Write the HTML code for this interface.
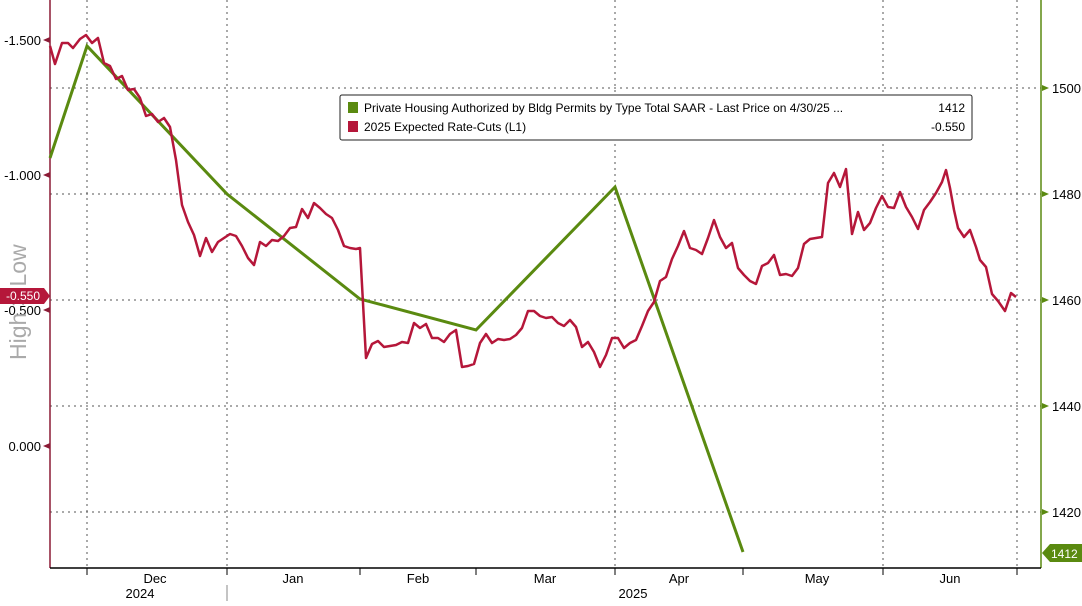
<!DOCTYPE html>
<html><head><style>
body{margin:0;background:#fff;width:1082px;height:601px;overflow:hidden;font-family:"Liberation Sans",sans-serif;}
</style></head><body>
<svg width="1082" height="601" xmlns="http://www.w3.org/2000/svg" font-family="Liberation Sans, sans-serif">
<g stroke="#555" stroke-dasharray="2,4" stroke-width="1">
<line x1="50" x2="1041" y1="88" y2="88"/><line x1="50" x2="1041" y1="194" y2="194"/>
<line x1="50" x2="1041" y1="300" y2="300"/><line x1="50" x2="1041" y1="406" y2="406"/>
<line x1="50" x2="1041" y1="512" y2="512"/>
<line x1="87" x2="87" y1="0" y2="568"/><line x1="227" x2="227" y1="0" y2="568"/>
<line x1="615" x2="615" y1="0" y2="568"/><line x1="883" x2="883" y1="0" y2="568"/>
<line x1="1017" x2="1017" y1="0" y2="568"/>
</g>
<line x1="50" y1="0" x2="50" y2="568" stroke="#8b1a35" stroke-width="1.5"/>
<line x1="1041" y1="0" x2="1041" y2="568" stroke="#5a8a10" stroke-width="1.5"/>
<line x1="50" y1="568" x2="1041" y2="568" stroke="#000" stroke-width="1.5"/>
<g stroke="#000" stroke-width="1">
<line x1="87" x2="87" y1="568" y2="575"/><line x1="227" x2="227" y1="568" y2="575"/>
<line x1="360" x2="360" y1="568" y2="575"/><line x1="476" x2="476" y1="568" y2="575"/>
<line x1="615" x2="615" y1="568" y2="575"/><line x1="743" x2="743" y1="568" y2="575"/>
<line x1="883" x2="883" y1="568" y2="575"/><line x1="1017" x2="1017" y1="568" y2="575"/>
<line x1="227" x2="227" y1="585" y2="601" stroke="#888"/>
</g>
<g font-size="13" fill="#000" text-anchor="middle">
<text x="155" y="583">Dec</text><text x="293" y="583">Jan</text><text x="418" y="583">Feb</text>
<text x="545" y="583">Mar</text><text x="679" y="583">Apr</text><text x="817" y="583">May</text>
<text x="950" y="583">Jun</text><text x="140" y="598">2024</text><text x="633" y="598">2025</text>
</g>
<g font-size="13" fill="#000" text-anchor="end">
<text x="41" y="45">-1.500</text><text x="41" y="180">-1.000</text><text x="41" y="315">-0.500</text><text x="41" y="451">0.000</text>
</g>
<g fill="#8b1a35">
<polygon points="43,40 50,37 50,43"/><polygon points="43,175 50,172 50,178"/><polygon points="43,310 50,307 50,313"/><polygon points="43,446 50,443 50,449"/>
</g>
<g font-size="13" fill="#000">
<text x="1052" y="93">1500</text><text x="1052" y="199">1480</text><text x="1052" y="305">1460</text><text x="1052" y="411">1440</text><text x="1052" y="517">1420</text>
</g>
<g fill="#5a8a10">
<polygon points="1049,88 1042,85 1042,91"/><polygon points="1049,194 1042,191 1042,197"/><polygon points="1049,300 1042,297 1042,303"/><polygon points="1049,406 1042,403 1042,409"/><polygon points="1049,512 1042,509 1042,515"/>
</g>
<text transform="translate(26,360) rotate(-90)" font-size="23" fill="#aaa">High &gt; Low</text>
<polyline fill="none" stroke="#5a8a10" stroke-width="3" points="50,158 87,46 227,194 360,299 476,330 615,187 743,552"/>
<polyline fill="none" stroke="#b5173a" stroke-width="2.5" stroke-linejoin="round" points="50,46 55,64 62,43 68,43 73,48 80,39 86,35 92,43 98,38 104,63 110,66 116,79 122,76 128,90 134,89 140,98 146,116 152,114 158,122 164,118 170,127 176,160 182,205 188,222 194,235 200,256 206,238 212,252 218,242 224,238 230,234 236,236 242,246 248,258 254,265 260,242 266,246 272,240 278,241 284,236 290,228 296,227 302,209 308,218 314,203 320,208 326,214 332,218 338,230 344,246 350,248 356,249 360,248 366,358 372,344 378,341 384,347 390,346 396,345 402,342 408,343 414,323 420,328 426,324 432,338 438,338 444,342 450,334 456,330 462,367 468,366 474,364 480,343 486,334 492,343 498,339 504,340 510,339 516,335 522,328 528,311 534,311 540,316 546,318 552,317 558,323 564,326 570,320 576,327 582,347 588,342 594,352 600,367 606,355 612,338 618,338 624,348 630,343 636,340 642,326 648,311 654,302 660,281 666,277 672,259 678,246 684,231 690,248 696,250 702,254 708,238 714,220 720,237 726,248 732,243 738,268 744,275 750,281 756,284 762,266 768,263 774,255 780,275 786,274 792,276 798,268 804,244 810,239 816,238 822,237 828,183 834,173 840,187 846,169 852,234 858,212 864,230 870,223 876,208 882,196 888,207 894,208 900,192 906,207 912,217 918,229 924,210 930,202 936,193 942,182 946,170 950,188 954,210 958,228 964,237 970,230 976,247 980,260 986,267 992,294 998,301 1005,311 1011,293 1016,297"/>
<rect x="340" y="95" width="632" height="45" fill="#fff" stroke="#222" rx="2"/>
<rect x="348" y="102" width="10" height="11" fill="#5a8a10"/>
<rect x="348" y="121" width="10" height="11" fill="#b5173a"/>
<g font-size="12" fill="#000">
<text x="364" y="112">Private Housing Authorized by Bldg Permits by Type Total SAAR - Last Price on 4/30/25 ...</text>
<text x="364" y="131">2025 Expected Rate-Cuts (L1)</text>
<text x="965" y="112" text-anchor="end">1412</text>
<text x="965" y="131" text-anchor="end">-0.550</text>
</g>
<polygon points="0,288 44,288 50,296 44,304 0,304" fill="#b5173a"/>
<text x="6" y="300" font-size="12" fill="#fff">-0.550</text>
<polygon points="1042,553 1050,544 1082,544 1082,562 1050,562" fill="#5a8a10"/>
<text x="1051" y="558" font-size="12" fill="#fff">1412</text>
</svg>
</body></html>
